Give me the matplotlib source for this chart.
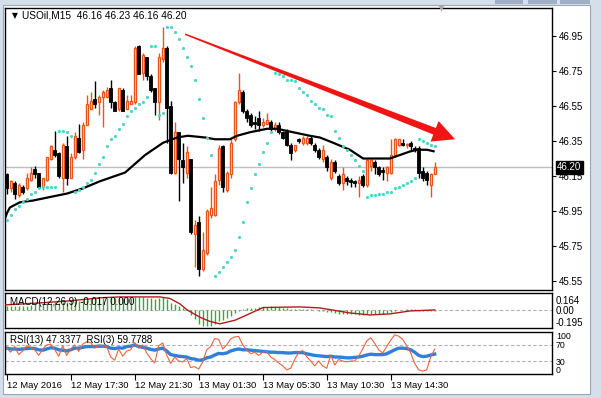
import matplotlib

matplotlib.use("Agg")
import matplotlib.pyplot as plt
import numpy as np
from matplotlib.patches import Polygon, Rectangle
from matplotlib.transforms import IdentityTransform, ScaledTranslation

W, H = 601, 398

symbol = "USOil,M15"

opens = [46.16, 46.08, 46.11, 46.04, 46.09, 46.08, 46.13, 46.19, 46.17, 46.09,
         46.13, 46.25, 46.30, 46.28, 46.14, 46.32, 46.14, 46.26, 46.37, 46.30,
         46.44, 46.53, 46.59, 46.57, 46.60, 46.60, 46.65, 46.57, 46.53, 46.64,
         46.53, 46.56, 46.57, 46.89, 46.74, 46.83, 46.72, 46.65, 46.57, 46.82,
         46.88, 46.55, 46.17, 46.40, 46.24, 46.17, 46.25, 45.82, 45.89, 45.62,
         45.71, 45.93, 45.93, 46.13, 46.32, 46.07, 46.16, 46.36, 46.57, 46.63,
         46.52, 46.50, 46.46, 46.48, 46.44, 46.45, 46.46, 46.42, 46.44, 46.40,
         46.41, 46.33, 46.30, 46.36, 46.34, 46.34, 46.37, 46.33, 46.30, 46.25,
         46.26, 46.14, 46.23, 46.15, 46.11, 46.14, 46.125, 46.12, 46.11, 46.15,
         46.10, 46.21, 46.23, 46.20, 46.185, 46.17, 46.17, 46.27, 46.33, 46.34,
         46.33, 46.34, 46.31, 46.31, 46.18, 46.17, 46.10, 46.16]
highs = [46.17, 46.13, 46.12, 46.11, 46.10, 46.17, 46.20, 46.21, 46.17, 46.14,
         46.26, 46.33, 46.41, 46.29, 46.34, 46.38, 46.28, 46.40, 46.45, 46.46,
         46.61, 46.63, 46.69, 46.61, 46.64, 46.66, 46.70, 46.58, 46.65, 46.65,
         46.61, 46.61, 46.89, 46.90, 46.85, 46.83, 46.73, 46.65, 46.85, 47.00,
         46.89, 46.58, 46.46, 46.40, 46.34, 46.32, 46.25, 45.90, 45.92, 45.83,
         45.96, 46.09, 46.16, 46.33, 46.33, 46.18, 46.36, 46.58, 46.74, 46.64,
         46.53, 46.51, 46.49, 46.52, 46.48, 46.51, 46.47, 46.46, 46.46, 46.41,
         46.42, 46.34, 46.33, 46.37, 46.38, 46.38, 46.38, 46.34, 46.31, 46.33,
         46.27, 46.25, 46.24, 46.16, 46.20, 46.15, 46.14, 46.13, 46.15, 46.16,
         46.25, 46.25, 46.24, 46.21, 46.20, 46.21, 46.36, 46.37, 46.36, 46.36,
         46.34, 46.35, 46.32, 46.32, 46.20, 46.18, 46.17, 46.23]
lows = [46.05, 46.06, 46.02, 46.03, 46.05, 46.07, 46.12, 46.14, 46.08, 46.07,
        46.12, 46.24, 46.26, 46.14, 46.06, 46.10, 46.14, 46.25, 46.28, 46.25,
        46.44, 46.53, 46.54, 46.50, 46.43, 46.60, 46.54, 46.52, 46.52, 46.52,
        46.53, 46.56, 46.56, 46.73, 46.70, 46.70, 46.63, 46.50, 46.47, 46.80,
        46.34, 46.16, 46.16, 46.01, 46.11, 46.14, 45.82, 45.63, 45.58, 45.61,
        45.70, 45.91, 45.92, 46.10, 46.06, 46.06, 46.14, 46.35, 46.56, 46.51,
        46.46, 46.43, 46.42, 46.41, 46.43, 46.45, 46.41, 46.41, 46.39, 46.36,
        46.32, 46.24, 46.29, 46.34, 46.33, 46.33, 46.33, 46.29, 46.25, 46.23,
        46.18, 46.13, 46.17, 46.10, 46.07, 46.10, 46.09, 46.09, 46.03, 46.09,
        46.09, 46.18, 46.16, 46.15, 46.13, 46.12, 46.16, 46.26, 46.32, 46.32,
        46.31, 46.30, 46.29, 46.14, 46.12, 46.10, 46.03, 46.16]
closes = [46.08, 46.12, 46.05, 46.10, 46.06, 46.14, 46.17, 46.16, 46.09, 46.14,
          46.26, 46.32, 46.27, 46.15, 46.33, 46.14, 46.26, 46.38, 46.29, 46.44,
          46.56, 46.58, 46.56, 46.60, 46.63, 46.64, 46.57, 46.52, 46.65, 46.52,
          46.58, 46.58, 46.88, 46.73, 46.84, 46.72, 46.64, 46.57, 46.83, 46.88,
          46.54, 46.17, 46.40, 46.25, 46.20, 46.29, 45.83, 45.87, 45.62, 45.73,
          45.95, 45.97, 46.12, 46.31, 46.09, 46.17, 46.34, 46.57, 46.64, 46.52,
          46.48, 46.44, 46.45, 46.44, 46.46, 46.47, 46.42, 46.44, 46.40, 46.37,
          46.33, 46.28, 46.33, 46.35, 46.37, 46.37, 46.34, 46.30, 46.26, 46.30,
          46.20, 46.23, 46.18, 46.11, 46.16, 46.12, 46.115, 46.11, 46.13, 46.10,
          46.24, 46.24, 46.20, 46.16, 46.175, 46.20, 46.27, 46.36, 46.36, 46.33,
          46.33, 46.32, 46.30, 46.17, 46.14, 46.13, 46.16, 46.20]

# parabolic SAR, one dot per bar
sar = [45.90, 45.93, 45.96, 45.98, 46.00, 46.02, 46.05, 46.06, 46.08, 46.09,
       46.09, 46.09, 46.09, 46.41, 46.41, 46.40, 46.38, 46.06, 46.07, 46.09,
       46.11, 46.13, 46.17, 46.22, 46.26, 46.32, 46.36, 46.38, 46.42, 46.45,
       46.49, 46.52, 46.54, 46.56, 46.57, 46.60, 46.89, 46.89, 46.50, 46.51,
       47.00, 47.00, 46.97, 46.93, 46.88, 46.83, 46.78, 46.70, 46.59, 46.48,
       46.37, 46.27, 45.58, 45.60, 45.63, 45.66, 45.69, 45.73, 45.80, 45.89,
       46.00, 46.08, 46.16, 46.22, 46.29, 46.34, 46.40, 46.74, 46.73, 46.72,
       46.70, 46.70, 46.69, 46.65, 46.63, 46.61, 46.58, 46.56, 46.54, 46.53,
       46.50, 46.49, 46.41, 46.37, 46.32, 46.30, 46.27, 46.24, 46.21, 46.18,
       46.03, 46.04, 46.04, 46.05, 46.05, 46.06, 46.06, 46.08, 46.09, 46.10,
       46.11, 46.12, 46.14, 46.36, 46.35, 46.34, 46.33, 46.32]

# moving average read as a polyline (bar position, price)
ma_bar = [-0.4, 0.1, 0.8, 1.6, 3.3, 6.6, 10.8, 15.1, 19.1, 23.3, 29.6, 34.6,
          39.1, 42.6, 45.3, 49.6, 52.1, 55.8, 57.6, 60.8, 65.1, 67.6, 71.6,
          75.8, 78.3, 81.6, 85.8, 89.1, 95.8, 98.3, 100.8, 102.6, 105.1, 107.0]
ma_val = [45.91, 45.94, 45.97, 45.98, 46.00, 46.01, 46.03, 46.05, 46.08, 46.12,
          46.17, 46.27, 46.34, 46.37, 46.38, 46.37, 46.36, 46.36, 46.38, 46.40,
          46.42, 46.42, 46.40, 46.38, 46.37, 46.34, 46.30, 46.25, 46.25, 46.27,
          46.29, 46.30, 46.30, 46.29]

macd_main = [0.07, 0.07, 0.06, 0.06, 0.06, 0.07, 0.08, 0.09, 0.09, 0.10,
             0.11, 0.12, 0.13, 0.12, 0.13, 0.13, 0.14, 0.15, 0.15, 0.16,
             0.17, 0.18, 0.19, 0.19, 0.20, 0.20, 0.20, 0.19, 0.20, 0.19,
             0.19, 0.19, 0.21, 0.21, 0.21, 0.20, 0.19, 0.18, 0.19, 0.21,
             0.18, 0.11, 0.09, 0.06, 0.03, 0.01, -0.09, -0.15, -0.24, -0.27,
             -0.27, -0.26, -0.23, -0.19, -0.17, -0.14, -0.10, -0.05, -0.01, 0.02,
             0.03, 0.04, 0.04, 0.05, 0.05, 0.05, 0.06, 0.05, 0.05, 0.04,
             0.03, 0.02, 0.02, 0.02, 0.02, 0.02, 0.01, 0.00, -0.01, -0.01,
             -0.03, -0.03, -0.05, -0.06, -0.06, -0.07, -0.07, -0.07, -0.08, -0.08,
             -0.06, -0.06, -0.06, -0.06, -0.06, -0.05, -0.03, -0.01, 0.00, 0.00,
             0.01, 0.01, 0.01, -0.01, -0.02, -0.02, -0.02, -0.017]
signal_bar = [-0.4, 8.3, 15.8, 23.3, 28.3, 38.3, 40.8, 43.3, 45.1, 48.3, 50.8,
              53.3, 57.1, 60.8, 64.1, 73.3, 78.3, 85.8, 90.8, 95.8, 100.8, 107.0]
signal_val = [0.083, 0.116, 0.15, 0.20, 0.215, 0.215, 0.19, 0.10, 0.0, -0.12,
              -0.19, -0.23, -0.17, -0.06, 0.04, 0.05, 0.033, -0.05, -0.083,
              -0.066, -0.017, 0.0]

rsi13 = [62, 60, 60, 59, 60, 61, 62, 61, 58, 57, 60, 63, 62, 58, 57, 55, 58, 62,
         62, 64, 66, 66, 66, 67, 67, 66, 62, 61, 63, 62, 66, 67, 70, 66, 64, 62,
         59, 57, 60, 62, 55, 46, 44, 42, 41, 40, 36, 35, 32, 33, 38, 40, 45, 49,
         48, 50, 55, 58, 60, 58, 58, 57, 56, 55, 54, 53, 52, 52, 51, 51, 50, 50,
         51, 51, 51, 48, 46, 44, 43, 42, 41, 42, 40, 40, 39, 38, 38, 39, 40, 42,
         45, 47, 46, 46, 46, 48, 53, 58, 62, 62, 61, 58, 52, 44, 41, 42, 45, 47.3377]
rsi3 = [62, 52, 66, 46, 55, 68, 64, 58, 44, 60, 70, 72, 58, 42, 68, 44, 60, 70,
        54, 72, 78, 76, 62, 70, 68, 66, 40, 32, 60, 42, 55, 58, 76, 62, 70, 50,
        36, 25, 68, 75, 45, 24, 40, 30, 28, 36, 14, 16, 10, 28, 58, 66, 86, 84,
        60, 70, 85, 90, 91, 70, 58, 48, 52, 44, 52, 54, 40, 34, 25, 18, 8, 12,
        34, 52, 56, 41, 30, 18, 30, 18, 12, 45, 20, 34, 30, 28, 30, 30, 42, 60,
        80, 88, 74, 58, 50, 66, 82, 95, 92, 84, 68, 50, 24, 8, 5, 8, 40, 59.7788]

time_label_bars = [0, 16, 32, 48, 64, 80, 96]
time_labels = ["12 May 2016", "12 May 17:30", "12 May 21:30", "13 May 01:30",
               "13 May 05:30", "13 May 10:30", "13 May 14:30"]
price_ticks = [46.95, 46.75, 46.55, 46.35, 46.15, 45.95, 45.75, 45.55]
macd_ticks = [0.164, 0.0, -0.195]
macd_tick_labels = ["0.164", "0.00", "-0.195"]
rsi_ticks = [100, 70, 30, 0]
rsi_levels = [70, 30]

# hand-drawn trend arrow: (bar, price)
arrow_start = (44.6, 46.96)
arrow_end = (112.1, 46.36)

BULL = "#e8561e"
SAR_C = "#48d8c8"
FONT = ["Liberation Sans", "DejaVu Sans"]
plt.rcParams["font.family"] = FONT


def px_axes(fig, x0, y0, x1, y1):
    return fig.add_axes([x0 / W, 1 - y1 / H, (x1 - x0) / W, (y1 - y0) / H])


def style_panel(ax, xlim):
    ax.set_xlim(*xlim)
    ax.yaxis.tick_right()
    for s in ax.spines.values():
        s.set_linewidth(1.0)
        s.set_color("black")
    ax.set_xticks([])
    ax.tick_params(axis="y", labelsize=7, length=0, pad=3, colors="black")


fig = plt.figure(figsize=(W / 100, H / 100), dpi=100, facecolor="#d5dfeb")
fig.add_artist(Rectangle((3 / W, 1 - 394 / H), 587 / W, 389 / H,
                         transform=fig.transFigure, fc="white", ec="#9aa7b6", lw=0.8, zorder=0))
for bx0, bx1 in [(495, 523), (528, 557), (560, 590)]:
    fig.add_artist(Rectangle((bx0 / W, 1 - 4 / H), (bx1 - bx0) / W, 4 / H,
                             transform=fig.transFigure, fc="#9fb0c4", ec="none", zorder=0))

xlim = (-0.35, 136.25)
n = len(closes)
x = np.arange(n)
o = np.array(opens)
c = np.array(closes)
hi = np.array(highs)
lo = np.array(lows)
up = c >= o

# ---- main price panel
ax = px_axes(fig, 5.3, 8.3, 551.7, 290)
style_panel(ax, xlim)
ax.set_ylim(45.499, 47.108)
ax.set_yticks(price_ticks)
ax.set_yticklabels([f"{v:.2f}" for v in price_ticks])
ax.tick_params(axis="y", length=3, width=0.8, pad=2)

ax.axhline(closes[-1], color="#c0c0c0", lw=1, zorder=1)
ax.vlines(x[up], lo[up], hi[up], color=BULL, lw=1, zorder=2)
ax.vlines(x[~up], lo[~up], hi[~up], color="black", lw=1, zorder=2)
body_lo = np.minimum(o, c)
body_h = np.maximum(np.abs(c - o), 0.002)
ax.bar(x[up], body_h[up], bottom=body_lo[up], width=0.6, facecolor="white",
       edgecolor=BULL, linewidth=1.0, zorder=3)
ax.bar(x[~up], body_h[~up], bottom=body_lo[~up], width=0.8, facecolor="black",
       edgecolor="black", linewidth=0.6, zorder=3)
ax.plot(ma_bar, ma_val, color="black", lw=1.6, zorder=4, solid_capstyle="butt")
ax.plot(x, sar, ls="none", marker="o", ms=2.3, mfc=SAR_C, mec="none", zorder=5)

ax.text(0.0125, 0.973, "\u25bc", transform=ax.transAxes, fontsize=5.5, va="center", ha="left",
        family=["DejaVu Sans"])
ax.text(0.030, 0.973, f"{symbol}  {opens[-1]:.2f} {highs[-1]:.2f} {lows[-1]:.2f} {closes[-1]:.2f}",
        transform=ax.transAxes, fontsize=7.3, va="center", ha="left")
ax.plot([0.797], [1.0], transform=ax.transAxes, marker="v", ms=5, color="#a8a8a8",
        mec="none", clip_on=False, zorder=6)
ax.annotate(f"{closes[-1]:.2f}", xy=(1.0, closes[-1]), xycoords=ax.get_yaxis_transform(),
            xytext=(4, 0), textcoords="offset points", fontsize=7, color="white",
            va="center", ha="left",
            bbox=dict(boxstyle="square,pad=0.15", fc="black", ec="black"))

# tapered red arrow, built in pixel space
p0 = ax.transData.transform(arrow_start)
p1 = ax.transData.transform(arrow_end)
u = (p1 - p0) / np.hypot(*(p1 - p0))
nrm = np.array([-u[1], u[0]])
head_len, head_hw, w0, w1 = 22, 11, 1.5, 7
base = p1 - u * head_len
pts = [p0 + nrm * w0 / 2, base + nrm * w1 / 2, base + nrm * head_hw, p1,
       base - nrm * head_hw, base - nrm * w1 / 2, p0 - nrm * w0 / 2]
ax.add_patch(Polygon(pts, closed=True, fc="#f01414", ec="none",
                     transform=IdentityTransform(), zorder=7))

# ---- MACD panel
axm = px_axes(fig, 5.3, 293.3, 551.7, 328.3)
style_panel(axm, xlim)
axm.set_ylim(-0.304, 0.275)
axm.set_yticks(macd_ticks)
axm.set_yticklabels(macd_tick_labels)
axm.axhline(0, color="#b0b0b0", lw=0.8, ls=(0, (3, 2)), zorder=1)
axm.vlines(x, 0, macd_main, color="#3aa832", lw=1.0, zorder=2)
axm.plot(signal_bar, signal_val, color="#b31b1b", lw=1.0, zorder=3)
axm.text(0.0086, 0.75, f"MACD(12,26,9) {macd_main[-1]:.3f} {signal_val[-1]:.3f}",
         transform=axm.transAxes, fontsize=7, va="center", ha="left")

# ---- RSI panel
axr = px_axes(fig, 5.3, 331.7, 551.7, 374.3)
style_panel(axr, xlim)
axr.set_ylim(-3, 103)
axr.set_yticks(rsi_ticks)
axr.set_yticklabels([str(v) for v in rsi_ticks])
axr.tick_params(axis="y", labelsize=6.3)
for lvl in rsi_levels:
    axr.axhline(lvl, color="#b0b0b0", lw=0.8, ls=(0, (3, 2)), zorder=1)
axr.plot(x, rsi13, color="#2f7fdc", lw=2.4, zorder=2)
axr.plot(x, rsi3, color="#e8643c", lw=0.8, zorder=3)
axr.text(0.0086, 0.805, f"RSI(13) {rsi13[-1]:.4f}  RSI(3) {rsi3[-1]:.4f}",
         transform=axr.transAxes, fontsize=7, va="center", ha="left")
labels = axr.get_yticklabels()
labels[0].set_transform(labels[0].get_transform() + ScaledTranslation(0, -2.5 / 100, fig.dpi_scale_trans))
labels[-1].set_transform(labels[-1].get_transform() + ScaledTranslation(0, 3.5 / 100, fig.dpi_scale_trans))

axr.set_xticks(time_label_bars)
axr.set_xticklabels(time_labels, ha="left")
axr.tick_params(axis="x", length=4, width=0.8, pad=1, labelsize=6.8, direction="out")

fig.savefig("out.png", dpi=100, facecolor=fig.get_facecolor())
